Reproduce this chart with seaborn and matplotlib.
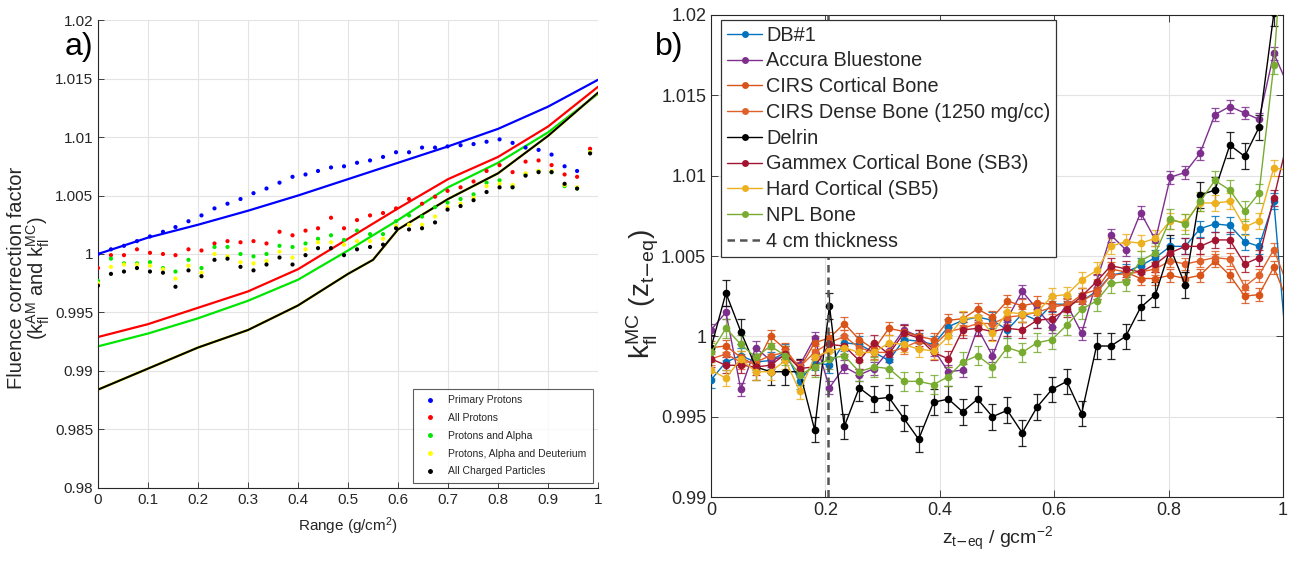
import numpy as np
import pandas as pd
import matplotlib
matplotlib.use("Agg")
import matplotlib.pyplot as plt
from matplotlib.lines import Line2D
import seaborn as sns

sns.set_style("whitegrid")
plt.rcParams['font.family'] = ['Liberation Sans', 'DejaVu Sans']
plt.rcParams['mathtext.fontset'] = 'custom'
plt.rcParams['mathtext.rm'] = 'Liberation Sans'
plt.rcParams['mathtext.it'] = 'Liberation Sans'

# depth positions of the scored slabs (g/cm2)
depth = [0.000, 0.026, 0.052, 0.078, 0.104, 0.130, 0.155, 0.181, 0.207, 0.233,
         0.259, 0.285, 0.311, 0.337, 0.363, 0.389, 0.415, 0.440, 0.466, 0.492,
         0.518, 0.544, 0.570, 0.596, 0.622, 0.648, 0.674, 0.699, 0.725, 0.751,
         0.777, 0.803, 0.829, 0.855, 0.881, 0.907, 0.933, 0.958, 0.984, 1.010]

# ---------------- panel a ----------------
a_labels = ['Primary Protons', 'All Protons', 'Protons and Alpha',
            'Protons, Alpha and Deuterium', 'All Charged Particles']
a_colors = ['#0000ff', '#ff0000', '#00e600', '#ffff00', '#000000']

mc_primary = [1.0000, 1.0004, 1.0007, 1.0011, 1.0015, 1.0019, 1.0023, 1.0028, 1.0033, 1.0039,
              1.0043, 1.0047, 1.0052, 1.0056, 1.0061, 1.0066, 1.0068, 1.0071, 1.0074, 1.0075,
              1.0078, 1.0080, 1.0083, 1.0087, 1.0087, 1.0091, 1.0091, 1.0092, 1.0093, 1.0094,
              1.0096, 1.0098, 1.0095, 1.0091, 1.0089, 1.0085, 1.0075, 1.0071, np.nan]
mc_protons = [0.9988, 0.9999, 0.9999, 1.0004, 1.0001, 1.0000, 0.9999, 1.0004, 1.0003, 1.0009,
              1.0011, 1.0010, 1.0011, 1.0009, 1.0019, 1.0016, 1.0020, 1.0022, 1.0031, 1.0022,
              1.0029, 1.0033, 1.0035, 1.0039, 1.0047, 1.0043, 1.0049, 1.0054, 1.0057, 1.0062,
              1.0071, 1.0076, 1.0070, 1.0079, 1.0080, 1.0076, 1.0068, 1.0066, 1.0090]
mc_alpha = [0.9977, 0.9996, 0.9992, 0.9992, 0.9993, 0.9988, 0.9985, 0.9995, 0.9988, 1.0006,
            1.0006, 1.0000, 0.9998, 1.0000, 1.0007, 1.0006, 1.0009, 1.0013, 1.0016, 1.0012,
            1.0020, 1.0017, 1.0017, 1.0028, 1.0033, 1.0032, 1.0040, 1.0044, 1.0047, 1.0051,
            1.0061, 1.0063, 1.0058, 1.0068, 1.0071, 1.0070, 1.0058, 1.0056, 1.0087]
mc_deut = [0.9975, 0.9989, 0.9991, 0.9991, 0.9990, 0.9987, 0.9979, 0.9990, 0.9984, 1.0000,
           0.9998, 0.9993, 0.9992, 0.9994, 1.0002, 0.9997, 1.0004, 1.0010, 1.0010, 1.0008,
           1.0011, 1.0011, 1.0013, 1.0024, 1.0025, 1.0025, 1.0032, 1.0040, 1.0043, 1.0048,
           1.0058, 1.0060, 1.0059, 1.0069, 1.0071, 1.0071, 1.0059, 1.0057, 1.0087]
mc_charged = [0.9973, 0.9983, 0.9985, 0.9988, 0.9985, 0.9984, 0.9972, 0.9986, 0.9981, 0.9995,
              0.9996, 0.9989, 0.9986, 0.9991, 0.9997, 0.9991, 0.9999, 1.0005, 1.0005, 0.9999,
              1.0004, 1.0006, 1.0008, 1.0022, 1.0021, 1.0022, 1.0027, 1.0038, 1.0041, 1.0046,
              1.0053, 1.0057, 1.0057, 1.0067, 1.0070, 1.0070, 1.0060, 1.0056, 1.0086]

range_line = [0.0, 0.1, 0.2, 0.3, 0.4, 0.5, 0.55, 0.6, 0.7, 0.8, 0.9, 1.0]
am_primary = [1.0000, 1.0014, 1.0025, 1.0037, 1.0050, 1.0064, 1.0071, 1.0078, 1.0092, 1.0107, 1.0126, 1.0149]
am_protons = [0.9929, 0.9940, 0.9954, 0.9968, 0.9987, 1.0013, 1.0026, 1.0039, 1.0064, 1.0083, 1.0109, 1.0143]
am_alpha = [0.9921, 0.9932, 0.9945, 0.9960, 0.9978, 1.0003, 1.0016, 1.0029, 1.0057, 1.0078, 1.0104, 1.0137]
am_deut = [0.9884, 0.9902, 0.9920, 0.9935, 0.9956, 0.9983, 0.9995, 1.0021, 1.0047, 1.0069, 1.0101, 1.0138]
am_charged = [0.9884, 0.9902, 0.9920, 0.9935, 0.9956, 0.9983, 0.9995, 1.0021, 1.0047, 1.0069, 1.0101, 1.0138]

# ---------------- panel b ----------------
b_labels = ['DB#1', 'Accura Bluestone', 'CIRS Cortical Bone', 'CIRS Dense Bone (1250 mg/cc)',
            'Delrin', 'Gammex Cortical Bone (SB3)', 'Hard Cortical (SB5)', 'NPL Bone']
b_colors = ['#0072BD', '#7E2F8E', '#D95319', '#E0602A', '#000000', '#A2142F', '#EDB120', '#77AC30']
b_err = [0.0005, 0.0004, 0.0004, 0.0004, 0.0008, 0.0005, 0.0005, 0.0006]

db1 = [0.9973, 0.9984, 0.9988, 0.9984, 0.9985, 0.9990, 0.9972, 0.9984, 0.9982, 0.9996,
       0.9995, 0.9990, 0.9985, 0.9998, 0.9997, 0.9995, 1.0006, 1.0010, 1.0012, 1.0010,
       1.0004, 1.0014, 1.0010, 1.0020, 1.0020, 1.0022, 1.0028, 1.0038, 1.0040, 1.0044,
       1.0049, 1.0056, 1.0056, 1.0067, 1.0070, 1.0069, 1.0059, 1.0056, 1.0084, 0.9975]
accura = [1.0004, 1.0015, 0.9967, 0.9993, 0.9985, 0.9988, 0.9982, 0.9999, 0.9968, 0.9981,
          0.9976, 0.9980, 0.9991, 1.0004, 1.0000, 0.9992, 0.9978, 0.9979, 1.0005, 0.9988,
          1.0011, 1.0028, 1.0017, 1.0006, 1.0020, 1.0002, 1.0034, 1.0063, 1.0054, 1.0077,
          1.0060, 1.0099, 1.0102, 1.0114, 1.0138, 1.0143, 1.0139, 1.0135, 1.0176, 1.0155]
cirs_cort = [0.9993, 0.9994, 0.9987, 0.9982, 1.0000, 0.9992, 0.9980, 0.9996, 0.9999, 1.0008,
             0.9998, 0.9992, 1.0005, 1.0003, 1.0000, 0.9998, 1.0010, 1.0011, 1.0017, 1.0012,
             1.0022, 1.0019, 1.0021, 1.0020, 1.0019, 1.0026, 1.0029, 1.0042, 1.0040, 1.0036,
             1.0036, 1.0038, 1.0036, 1.0038, 1.0047, 1.0038, 1.0025, 1.0026, 1.0043, 1.0020]
cirs_dense = [0.9986, 0.9989, 0.9984, 0.9984, 0.9988, 0.9990, 0.9981, 0.9990, 0.9996, 1.0000,
              0.9993, 0.9990, 0.9990, 0.9993, 0.9997, 0.9994, 1.0003, 1.0005, 1.0008, 1.0008,
              1.0012, 1.0013, 1.0015, 1.0018, 1.0020, 1.0022, 1.0027, 1.0038, 1.0039, 1.0040,
              1.0042, 1.0047, 1.0045, 1.0047, 1.0049, 1.0048, 1.0031, 1.0038, 1.0054, 1.0030]
delrin = [0.9993, 1.0027, 1.0003, 0.9981, 0.9978, 0.9978, 0.9978, 0.9942, 1.0019, 0.9944,
          0.9968, 0.9961, 0.9962, 0.9949, 0.9936, 0.9959, 0.9961, 0.9953, 0.9961, 0.9950,
          0.9954, 0.9940, 0.9956, 0.9967, 0.9972, 0.9952, 0.9994, 0.9994, 1.0000, 1.0018,
          1.0026, 1.0055, 1.0032, 1.0088, 1.0091, 1.0119, 1.0112, 1.0130, 1.0201, 1.0280]
gammex = [0.9986, 0.9982, 0.9982, 0.9981, 0.9982, 0.9989, 0.9980, 0.9981, 0.9995, 0.9994,
          0.9985, 0.9996, 0.9989, 1.0002, 0.9999, 0.9990, 0.9986, 1.0004, 1.0005, 1.0003,
          1.0005, 1.0004, 1.0010, 1.0011, 1.0017, 1.0025, 1.0034, 1.0044, 1.0042, 1.0040,
          1.0045, 1.0052, 1.0056, 1.0056, 1.0060, 1.0060, 1.0045, 1.0049, 1.0086, 1.0125]
hard_cort = [0.9979, 0.9974, 0.9986, 0.9978, 0.9978, 0.9985, 0.9966, 0.9987, 0.9991, 0.9993,
             0.9990, 0.9990, 0.9996, 0.9995, 0.9992, 0.9991, 1.0000, 1.0011, 1.0012, 1.0002,
             1.0015, 1.0014, 1.0015, 1.0025, 1.0026, 1.0035, 1.0041, 1.0056, 1.0059, 1.0058,
             1.0061, 1.0072, 1.0071, 1.0083, 1.0083, 1.0084, 1.0068, 1.0072, 1.0105, 1.0103]
npl = [0.9990, 1.0005, 0.9995, 0.9987, 0.9994, 0.9988, 0.9976, 0.9981, 0.9986, 0.9988,
       0.9978, 0.9981, 0.9980, 0.9972, 0.9972, 0.9970, 0.9975, 0.9984, 0.9988, 0.9981,
       0.9993, 0.9990, 0.9996, 0.9998, 1.0007, 1.0017, 1.0022, 1.0033, 1.0034, 1.0047,
       1.0052, 1.0073, 1.0070, 1.0084, 1.0097, 1.0091, 1.0078, 1.0089, 1.0169, 1.0300]
thickness_4cm = 0.205

TXT = '#262626'
GRID = '#e3e3e3'

fig = plt.figure(figsize=(12.94, 5.74), dpi=100)
ax1 = fig.add_axes([0.0757, 0.150, 0.3865, 0.815])
ax2 = fig.add_axes([0.5495, 0.134, 0.4420, 0.840])

# ---- panel a
mc_df = pd.DataFrame({'x': depth[:39] * 5,
                      'y': mc_primary + mc_protons + mc_alpha + mc_deut + mc_charged,
                      'set': np.repeat(a_labels, 39)})
am_df = pd.DataFrame({'x': range_line * 5,
                      'y': am_primary + am_protons + am_alpha + am_deut + am_charged,
                      'set': np.repeat(a_labels, len(range_line))})
pal_a = dict(zip(a_labels, a_colors))
for lab, lw in zip(a_labels, [1.6, 1.6, 1.6, 1.8, 1.5]):
    sns.lineplot(data=am_df[am_df['set'] == lab], x='x', y='y', color=pal_a[lab],
                 lw=lw, ax=ax1, legend=False)
sns.scatterplot(data=mc_df, x='x', y='y', hue='set', palette=pal_a, s=9,
                linewidth=0, ax=ax1, legend=False, zorder=3)

ax1.set_xlim(0, 1)
ax1.set_ylim(0.98, 1.02)
ax1.set_xticks(np.arange(0, 1.01, 0.1))
ax1.set_xticklabels(['0', '0.1', '0.2', '0.3', '0.4', '0.5', '0.6', '0.7', '0.8', '0.9', '1'])
ax1.set_yticks(np.arange(0.98, 1.0201, 0.005))
ax1.set_yticklabels(['0.98', '0.985', '0.99', '0.995', '1', '1.005', '1.01', '1.015', '1.02'])
ax1.grid(True, color=GRID, lw=0.8)
for s in ['top', 'right']:
    ax1.spines[s].set_visible(False)
for s in ['left', 'bottom']:
    ax1.spines[s].set_color(TXT)
    ax1.spines[s].set_linewidth(0.8)
ax1.tick_params(direction='in', length=4, width=0.6, colors=TXT, labelsize=11,
                left=True, bottom=True)
ax1.set_xlabel('Range (g/cm$^2$)', fontsize=11, color=TXT, labelpad=6)
ax1.set_ylabel('Fluence correction factor\n'
               r'($\mathrm{k_{fl}^{AM}}$ and $\mathrm{k_{fl}^{MC}}$)',
               fontsize=14.5, color=TXT, linespacing=0.95)
ax1.yaxis.set_label_coords(-0.092, 0.449)
hand_a = [Line2D([], [], ls='none', marker='o', ms=2.5, color=c) for c in a_colors]
leg = ax1.legend(hand_a, a_labels, loc='lower right', fontsize=7.5, frameon=True,
                 fancybox=False, edgecolor='#333333', handlelength=2.0,
                 borderpad=0.6, labelspacing=0.75, borderaxespad=0.5)
leg.get_frame().set_linewidth(0.8)

# ---- panel b
series_b = [db1, accura, cirs_cort, cirs_dense, delrin, gammex, hard_cort, npl]
b_df = pd.DataFrame({'x': depth * len(series_b),
                     'y': sum(series_b, []),
                     'set': np.repeat(b_labels, len(depth))})
pal_b = dict(zip(b_labels, b_colors))
for lab, err in zip(b_labels, b_err):
    sub = b_df[b_df['set'] == lab]
    ax2.errorbar(sub['x'], sub['y'], yerr=err, fmt='none', ecolor=pal_b[lab],
                 elinewidth=0.9, capsize=3, capthick=0.9, alpha=0.85, zorder=2)
sns.lineplot(data=b_df, x='x', y='y', hue='set', hue_order=b_labels, palette=pal_b,
             marker='o', markersize=5.5, markeredgewidth=0, lw=1.0, ax=ax2,
             legend=False, zorder=3)
ax2.axvline(thickness_4cm, color='#555555', ls='--', lw=1.8, dashes=(3, 2), zorder=4)

ax2.set_xlim(0, 1)
ax2.set_ylim(0.99, 1.02)
ax2.set_xticks([0, 0.2, 0.4, 0.6, 0.8, 1.0])
ax2.set_xticklabels(['0', '0.2', '0.4', '0.6', '0.8', '1'])
ax2.set_yticks(np.arange(0.99, 1.0201, 0.005))
ax2.set_yticklabels(['0.99', '0.995', '1', '1.005', '1.01', '1.015', '1.02'])
ax2.grid(True, color=GRID, lw=0.8)
for s in ax2.spines.values():
    s.set_color(TXT)
    s.set_linewidth(0.8)
ax2.tick_params(direction='in', length=5, width=0.6, colors=TXT, labelsize=13,
                top=True, right=True, left=True, bottom=True)
ax2.set_xlabel(r'$\mathrm{z_{t\mathsf{-}eq}}$ / gcm$^{-2}$', fontsize=14, color=TXT, labelpad=4)
ax2.set_ylabel(r'$\mathrm{k_{fl}^{MC}\ (z_{t\mathsf{-}eq})}$', fontsize=20, color=TXT)
ax2.yaxis.set_label_coords(-0.088, 0.42)
hand_b = [Line2D([], [], color=c, marker='o', ms=5, mew=0, lw=1.0) for c in b_colors]
hand_b.append(Line2D([], [], color='#555555', ls='--', lw=1.8, dashes=(3, 2)))
leg = ax2.legend(hand_b, b_labels + ['4 cm thickness'], loc='upper left', fontsize=14.3,
                 bbox_to_anchor=(0.018, 0.99), frameon=True, fancybox=False,
                 edgecolor='#333333', framealpha=1, handlelength=1.75,
                 handletextpad=0.2, borderpad=0.3, labelspacing=0.34, borderaxespad=0.0)
leg.get_frame().set_linewidth(0.9)
leg.set_zorder(10)

fig.text(0.061, 0.918, 'a)', fontsize=23, ha='center', va='center', color='black')
fig.text(0.517, 0.918, 'b)', fontsize=23, ha='center', va='center', color='black')

fig.savefig('out.png', dpi=100)
